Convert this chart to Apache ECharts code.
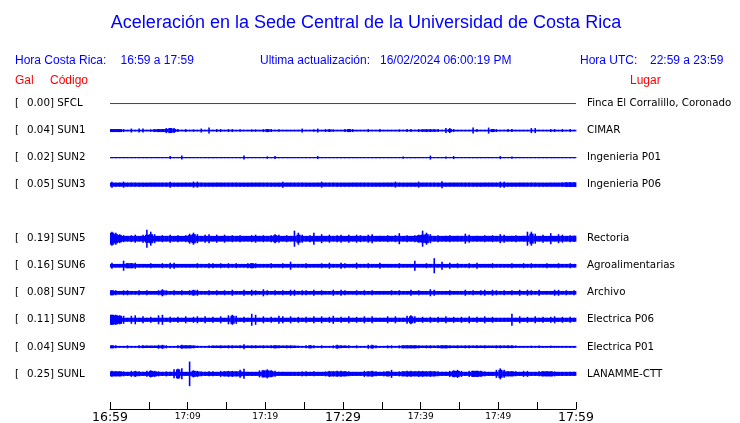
<!DOCTYPE html>
<html><head><meta charset="utf-8">
<script src="https://cdn.jsdelivr.net/npm/echarts@6/dist/echarts.min.js"></script>
<style>html,body{margin:0;padding:0;background:#fff}#c{width:740px;height:423px}</style>
</head><body><div id="c"></div>
<script>
// ---- Data ----
const stationCodes = ['SFCL','SUN1','SUN2','SUN3','SUN5','SUN6','SUN7','SUN8','SUN9','SUNL'];
const stationRows  = [0,1,2,3,5,6,7,8,9,10];
const peakGal      = [0.00,0.04,0.02,0.05,0.19,0.16,0.08,0.11,0.04,0.25];
const places       = ['Finca El Corralillo, Coronado','CIMAR','Ingenieria P01','Ingenieria P06','Rectoria','Agroalimentarias','Archivo','Electrica P06','Electrica P01','LANAMME-CTT'];
const timeTickLabels  = ['16:59','17:09','17:19','17:29','17:39','17:49','17:59'];
const majorTickLabels = ['16:59','17:29','17:59'];
const windowMinutes = 60;
const binMinutes = 0.5;           // each envelope value covers half a minute
const countsPerRow = 27;          // trace amplitude counts per row spacing

// envelope half-amplitudes (counts) per half-minute bin, 120 bins each
const sfcl = [0,0];               // flat trace (start / end)
const sun1 = [
1.5,1.5,1.5,1.5,0.8,2,0.8,2,2,0.8,
1.2,1.5,1.5,1.5,2.5,2.5,2.5,1.5,0.8,1.5,
0.8,1.2,0.8,2,0.8,3,0.8,1.5,1.5,0.8,
1.5,1.5,0.8,1.2,0.8,0.8,1.2,1.2,0.8,1.5,
1.5,1.5,0.8,1.2,0.8,0.8,0.8,0.8,0.8,2,
0.8,0.8,1.2,2,0.8,1.5,1.5,1.2,0.8,0.8,
1.5,1.5,1.5,0.8,0.8,0.8,1.5,0.8,0.8,1.5,
0.8,0.8,0.8,0.8,1.2,0.8,1.5,1.5,0.8,1.5,
1.2,1.5,1.5,1.2,1.5,0.8,2.5,2.5,1.5,0.8,
0.8,0.8,0.8,3,1.5,0.8,0.8,3,1.5,1.5,
0.8,0.8,1.5,1.5,0.8,0.8,0.8,0.8,2.5,2.5,
0.8,0.8,0.8,1.5,1.5,0.8,1.5,0.8,1.5,0.8];
const sun2 = [
0.6,0.6,0.6,0.6,0.6,0.6,0.6,0.6,0.6,0.6,
0.6,0.6,0.6,0.6,0.6,1.5,0.6,0.6,2,0.6,
0.6,0.6,0.6,0.6,0.6,0.6,0.6,0.6,0.6,0.6,
0.6,0.6,0.6,0.6,2,0.6,0.6,0.6,0.6,0.6,
1.2,0.6,1.5,0.6,0.6,0.6,0.6,0.6,0.6,0.6,
0.6,0.6,0.6,1.5,0.6,0.6,0.6,0.6,0.6,0.6,
0.6,0.6,0.6,0.6,0.6,0.6,0.6,0.6,0.6,0.6,
0.6,0.6,0.6,0.6,0.6,1.2,0.6,0.6,0.6,0.6,
0.6,0.6,2,0.6,0.6,0.6,1.2,0.6,1.5,0.6,
0.6,0.6,0.6,0.6,0.6,0.6,0.6,0.6,0.6,0.6,
1.5,0.6,0.6,1.2,0.6,0.6,0.6,0.6,0.6,0.6,
0.6,0.6,0.6,0.6,0.6,0.6,0.6,0.6,0.6,0.6];
const sun3 = [
3,2,2,3,2,2,2,2,2,2,
2,2,2,2,2,3,2,2,2,2,
2,3,3,2,2,2,2,2,2,2,
2,2,2,2,2,2,2,2,2,2,
2,2,2,2,3,2,2,2,2,2,
2,2,2,2,3,2,2,2,2,2,
2,2,2,2,2,2,2,2,2,2,
2,2,2,3,2,2,2,2,2,3,
2,2,2,2,2,3.5,2,2,2,2,
2,2,2,2,2,2,2,2,2,2,
3,3,2,2,2,2,2,2,2,2,
2,2,2,2,2,2,2.3,2.3,2.3,2.3];
const sun5 = [
7,6,4.5,3.5,2.8,3.5,4,2.8,4,9,
7,4.5,2.8,3.5,2.8,4,2.8,3.5,2.8,3.5,
5,6,4.5,2.8,4,4.5,2.8,4,2.8,4,
2.8,3.5,2.8,3.5,2.8,2.8,3.5,4,2.8,3.5,
2.8,3.5,4.5,4,2.8,3.5,2.8,8,6,4,
2.8,3.5,6,2.8,4.5,2.8,4,2.8,3.5,4,
2.8,4,2.8,4,3.5,2.8,4,4.5,2.8,3,
2.8,3.5,2.8,3.5,5.5,2.8,3.5,2.8,3.5,4,
8,6,4.5,2.8,3.5,2.8,3,3.5,2.8,3,
2.8,5,4,2.8,3,2.8,3.5,2.8,3.5,2.8,
4.5,4,2.8,3,3.5,2.8,3,7,7,5,
2.8,4,2.8,5.5,2.8,4.5,4,2.8,3.5,3];
const sun6 = [
3,1.8,1.8,5,2.5,2.5,3,1.8,1.8,1.8,
2.5,1.8,1.8,2.5,1.8,3,3,1.8,1.8,1.8,
1.8,1.8,2.5,1.8,1.8,2.5,2.5,1.8,2.5,1.8,
2.5,1.8,2.5,1.8,1.8,2.5,2.5,2.5,1.8,1.8,
1.8,2.5,1.8,1.8,2.5,1.8,4,1.8,1.8,1.8,
2.5,1.8,1.8,1.8,2.5,1.8,3,1.8,1.8,3,
2.5,1.8,1.8,3,1.8,1.8,2.5,1.8,1.8,3,
1.8,1.8,1.8,1.8,2.5,1.8,1.8,1.8,5,1.8,
1.8,2.5,1.8,7.5,1.8,4,1.8,3,1.8,2.5,
1.8,1.8,2.5,1.8,3,1.8,1.8,1.8,2.5,1.8,
1.8,1.8,1.8,2.5,1.8,1.8,2.5,1.8,2.5,1.8,
1.8,1.8,2.5,1.8,1.8,2.5,1.8,1.8,2.5,1.8];
const sun7 = [
2.5,2.5,1.8,2.5,2.5,1.8,1.8,2.5,1.8,2.5,
1.8,1.8,2.5,3.5,2.5,1.8,2.5,1.8,2.5,1.8,
2.5,3,3,1.8,1.8,2.5,1.8,2.5,1.8,2.5,
1.8,3,1.8,1.8,3,1.8,3,2.5,1.8,3.5,
2.5,1.8,2.5,1.8,2.5,1.8,3,3,1.8,2.5,
2.5,1.8,3,1.8,2.5,1.8,1.8,3,1.8,3,
2.5,1.8,1.8,2.5,1.8,2.5,1.8,2.5,1.8,1.8,
1.8,1.8,2.5,1.8,2.5,1.8,1.8,3,1.8,2.5,
1.8,1.8,3.5,3,1.8,1.8,1.8,2.5,1.8,1.8,
1.8,3,1.8,2.5,1.8,2.5,3,1.8,3,2.5,
1.8,2.5,1.8,2.5,1.8,3,1.8,3,2.5,1.8,
3,1.8,1.8,1.8,3,3,1.8,2.5,1.8,2.5];
const sun8 = [
5,5,4.5,4,2,4,4.5,2,3.5,2,
3,2,4.5,5,2,3,2,3,2,3.5,
2,3,3.5,2,3.5,2,3,2,3.5,2,
4.5,5,4,2,3,2,6,5,2,3.5,
2,3,2,4,3.5,2,3.5,2,3,2,
3,2,3.5,2,3.5,2,3,4,2,3,
2,3.5,2,3,2,3.5,2,3.5,2,2,
2,3.5,2,3.5,2,2,4,4.5,3.5,2,
3,2,3,2,3,2,3.5,2,3,2,
3,2,3.5,2,3,2,3.5,2,3,2,
2,2,2,6,2,3.5,2,3,2,3.5,
2,3,2,3,3.5,2,3,2,3,2];
const sun9 = [
1.5,1.5,0.9,0.9,1.5,0.9,0.9,1.5,1.5,1.2,
1.2,1.2,2,2,1.5,0.9,0.9,1.5,2,1.5,
1.5,1.5,1.2,0.9,0.9,1.2,1.2,1.2,1.5,1.2,
1.5,1.5,1.2,1.5,2.5,1.2,1.5,1.5,1.2,1.5,
1.2,1.5,1.5,1.5,1.2,1.5,1.5,1.2,1.2,0.9,
1.5,1.5,1.5,0.9,1.5,0.9,0.9,1.5,2,1.5,
1.2,1.5,0.9,1.5,0.9,0.9,2,2,1.5,0.9,
0.9,1.5,1.5,0.9,1.5,1.5,1.5,1.5,1.5,1.5,
1.2,1.5,1.5,1.2,1.5,1.5,1.5,1.5,1.2,1.5,
1.2,1.5,1.5,1.2,1.5,1.2,1.5,1.2,1.2,1.5,
1.5,1.2,1.5,1.5,1.2,0.9,0.9,0.9,1.2,0.9,
1.2,0.9,0.9,1.2,0.9,0.9,0.9,0.9,0.9,0.9];
const sunl = [
3,2.5,2.5,2.5,2,3,3,2.5,2,3,
3.5,3,2.5,2,2.5,2,4.5,5,5.5,2,
12.3,3.5,3,2.5,2,2.5,2.5,2,3,2.5,
3,3,2.5,4,5,2,2,2,3.5,3.5,
4.5,3.5,3,2,2,2,2,2,2,2.5,
2.5,2,2.5,2,2,2.5,3,2.5,3,3,
2.5,2.5,2,2,2,3,2.5,3,2.5,2,
2.5,2.5,4,2,2.5,2.5,3,3,2.5,3,
3,2.5,3,2.5,2.5,2,2,3,3.5,4,
3,2,3,3,3,3,2.5,2,2,4,
5.5,4,2.5,2.5,2.5,2,3,3,2,2,
2.5,2.5,2.5,2.5,2.5,2,2,2,2,2];
const traces = [null, sun1, sun2, sun3, sun5, sun6, sun7, sun8, sun9, sunl];

// ---- Build series ----
const BLUE = '#0000ff';
function buildData(arr, row) {
  return arr.map((a, i) => {
    const prev = i > 0 ? arr[i-1] : a, next = i < arr.length-1 ? arr[i+1] : a;
    return [i*binMinutes + binMinutes/2, row, a, Math.min(prev, a, next)];
  });
}
function renderTrace(params, api) {
  const t = api.value(0), row = api.value(1), amp = api.value(2), core = api.value(3);
  const l = api.coord([t - binMinutes/2, row])[0];
  const r = api.coord([t + binMinutes/2, row])[0];
  const y = (v) => api.coord([t, row + v/countsPerRow])[1];
  const c1 = y(-core), c2 = y(core), p1 = y(-amp), p2 = y(amp);
  const xm = (l + r) / 2;
  return {type:'group', children:[
    {type:'rect', shape:{x:l, y:Math.min(c1,c2), width:r-l+0.4, height:Math.abs(c2-c1)}, style:{fill:BLUE}},
    {type:'rect', shape:{x:xm-0.8, y:Math.min(p1,p2), width:1.6, height:Math.abs(p2-p1)}, style:{fill:BLUE}}
  ]};
}
const series = [{
  type:'line', data:[[0, stationRows[0] + sfcl[0]], [windowMinutes, stationRows[0] + sfcl[1]]],
  symbol:'none', lineStyle:{color:'#e00000', width:1}, silent:true, animation:false
}];
traces.forEach((arr, k) => {
  if (!arr) return;
  series.push({type:'custom', renderItem:renderTrace, data:buildData(arr, stationRows[k]),
    encode:{x:0, y:1}, clip:false, silent:true, animation:false});
});

function rowIndex(v){ const r = Math.round(v); if (Math.abs(v-r) > 1e-6) return -1; return stationRows.indexOf(r); }

const TXT = '"Liberation Sans", Arial, sans-serif';
const DV = '"DejaVu Sans", sans-serif';
const chart = echarts.init(document.getElementById('c'), null, {renderer:'canvas'});
chart.setOption({
  animation:false,
  backgroundColor:'#fff',
  grid:{left:110, right:164, top:76.5, bottom:14, outerBoundsMode:'none', containLabel:false},
  xAxis:{type:'value', min:0, max:windowMinutes, interval:5,
    axisLine:{show:true, onZero:false, lineStyle:{color:'#000', width:1}},
    axisTick:{show:true, inside:true, length:7, lineStyle:{color:'#000', width:1}},
    splitLine:{show:false},
    axisLabel:{margin:2, showMinLabel:true, showMaxLabel:true, hideOverlap:false,
      formatter:(v)=>{ if (v % 10 !== 0) return ''; const s = timeTickLabels[v/10];
        return majorTickLabels.includes(s) ? '{big|'+s+'}' : '{small|'+s+'}'; },
      rich:{big:{fontSize:12.5, fontFamily:DV, color:'#000'}, small:{fontSize:9, fontFamily:DV, color:'#000', padding:[1,0,0,0]}}}
  },
  yAxis:[
    {type:'value', min:-1, max:11.3, interval:1, inverse:true, position:'left',
      axisLine:{show:false}, axisTick:{show:false}, splitLine:{show:false},
      axisLabel:{margin:95, align:'left', showMaxLabel:false,
        formatter:(v)=>{ const i = rowIndex(v); if (i < 0) return '';
          return '{br|[}{num|' + peakGal[i].toFixed(2) + ']} {code|' + stationCodes[i] + '}'; },
        rich:{br:{width:12, fontSize:10.3, fontFamily:DV, color:'#000'},
              num:{fontSize:10.3, fontFamily:DV, color:'#000'},
              code:{fontSize:10.3, fontFamily:DV, color:'#000'}}}},
    {type:'value', min:-1, max:11.3, interval:1, inverse:true, position:'right',
      axisLine:{show:false}, axisTick:{show:false}, splitLine:{show:false},
      axisLabel:{margin:11, align:'left', showMaxLabel:false, fontSize:10.3, fontFamily:DV, color:'#000',
        formatter:(v)=>{ const i = rowIndex(v); return i < 0 ? '' : places[i]; }}}
  ],
  graphic:[
    {type:'text', x:366, y:23, style:{text:'Aceleración en la Sede Central de la Universidad de Costa Rica', fill:BLUE, font:'18px '+TXT, textAlign:'center', textVerticalAlign:'middle'}},
    {type:'text', x:15, y:60.5, style:{text:'Hora Costa Rica:', fill:BLUE, font:'12px '+TXT, textVerticalAlign:'middle'}},
    {type:'text', x:120.5, y:60.5, style:{text:'16:59 a 17:59', fill:BLUE, font:'12px '+TXT, textVerticalAlign:'middle'}},
    {type:'text', x:260, y:60.5, style:{text:'Ultima actualización:', fill:BLUE, font:'12px '+TXT, textVerticalAlign:'middle'}},
    {type:'text', x:380, y:60.5, style:{text:'16/02/2024 06:00:19 PM', fill:BLUE, font:'12px '+TXT, textVerticalAlign:'middle'}},
    {type:'text', x:580, y:60.5, style:{text:'Hora UTC:', fill:BLUE, font:'12px '+TXT, textVerticalAlign:'middle'}},
    {type:'text', x:650, y:60.5, style:{text:'22:59 a 23:59', fill:BLUE, font:'12px '+TXT, textVerticalAlign:'middle'}},
    {type:'text', x:15, y:80.5, style:{text:'Gal', fill:'#ff0000', font:'12px '+TXT, textVerticalAlign:'middle'}},
    {type:'text', x:50, y:80.5, style:{text:'Código', fill:'#ff0000', font:'12px '+TXT, textVerticalAlign:'middle'}},
    {type:'text', x:630, y:80.5, style:{text:'Lugar', fill:'#ff0000', font:'12px '+TXT, textVerticalAlign:'middle'}}
  ],
  series: series
});
</script></body></html>
